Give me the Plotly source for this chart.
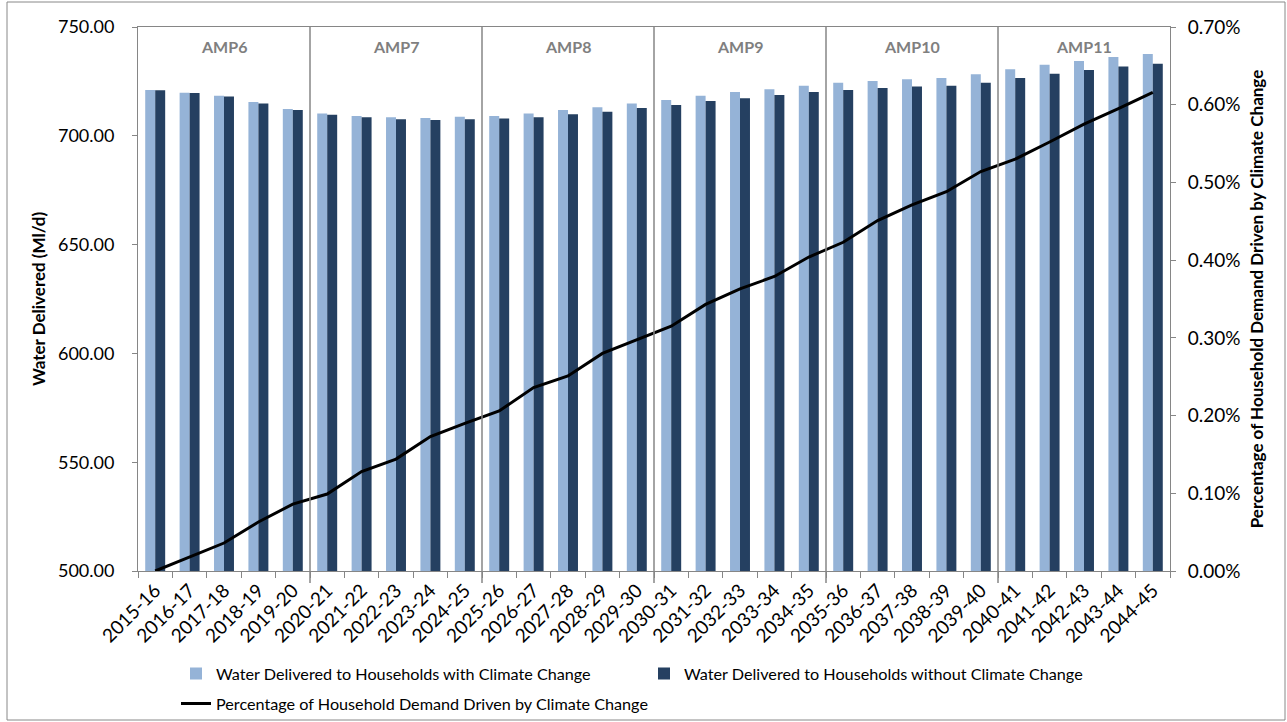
import plotly.graph_objects as go

years = ["2015-16", "2016-17", "2017-18", "2018-19", "2019-20", "2020-21", "2021-22", "2022-23",
         "2023-24", "2024-25", "2025-26", "2026-27", "2027-28", "2028-29", "2029-30", "2030-31",
         "2031-32", "2032-33", "2033-34", "2034-35", "2035-36", "2036-37", "2037-38", "2038-39",
         "2039-40", "2040-41", "2041-42", "2042-43", "2043-44", "2044-45"]

with_cc = [721.0, 719.8, 718.4, 715.5, 712.3, 710.3, 709.1, 708.5, 708.2, 708.8,
           709.1, 710.3, 711.9, 713.1, 714.9, 716.5, 718.4, 720.1, 721.4, 723.0,
           724.4, 725.2, 726.0, 726.6, 728.3, 730.6, 732.7, 734.4, 736.2, 737.6]
without_cc = [720.9, 719.7, 718.1, 714.9, 711.9, 709.7, 708.5, 707.6, 707.3, 707.6,
              707.9, 708.5, 709.9, 711.1, 712.8, 714.2, 716.0, 717.2, 718.8, 720.1,
              721.0, 722.0, 722.7, 723.0, 724.4, 726.6, 728.5, 730.2, 731.8, 733.1]
pct_cc = [0.0000, 0.00018, 0.00036, 0.00063, 0.00086, 0.00099, 0.00128, 0.00144, 0.00173, 0.00190,
          0.00206, 0.00236, 0.00251, 0.00280, 0.00297, 0.00315, 0.00343, 0.00363, 0.00379, 0.00404,
          0.00423, 0.00451, 0.00471, 0.00488, 0.00514, 0.00530, 0.00552, 0.00575, 0.00595, 0.00616]

amp_labels = ["AMP6", "AMP7", "AMP8", "AMP9", "AMP10", "AMP11"]
years_per_amp = 5

W, H = 1287, 722
ML, MR, MT, MB = 138, 117, 27, 151
PW, PH = W - ML - MR, H - MT - MB

FONT = "Lato, 'Open Sans', sans-serif"
GRID = "#868686"

fig = go.Figure()
fig.add_trace(go.Bar(x=years, y=with_cc, name="Water Delivered to Households with Climate Change",
                     marker=dict(color="#95B3D7", line=dict(width=0)), legend="legend"))
fig.add_trace(go.Bar(x=years, y=without_cc, name="Water Delivered to Households without Climate Change",
                     marker=dict(color="#254061", line=dict(width=0)), legend="legend"))
fig.add_trace(go.Scatter(x=years, y=pct_cc, name="Percentage of Household Demand Driven by Climate Change",
                         mode="lines", line=dict(color="black", width=3), yaxis="y2", legend="legend2"))

shapes = []
for k in range(1, len(amp_labels)):
    b = k * years_per_amp - 0.5
    shapes.append(dict(type="line", xref="x", yref="paper", x0=b, x1=b, y0=-12 / PH, y1=1,
                       line=dict(color=GRID, width=1.5)))
# outer chart border
shapes.append(dict(type="rect", xref="paper", yref="paper",
                   x0=(7 - ML) / PW, x1=(W - 2 - ML) / PW,
                   y0=-(H - 2 - MT - PH) / PH, y1=1 + (MT - 2) / PH,
                   line=dict(color="#888888", width=1), fillcolor="rgba(0,0,0,0)"))

annotations = []
for k, lab in enumerate(amp_labels):
    annotations.append(dict(x=k * years_per_amp + (years_per_amp - 1) / 2, xref="x",
                            y=1 - 20 / PH, yref="paper", yanchor="middle", xanchor="center",
                            text="<b>%s</b>" % lab, showarrow=False,
                            font=dict(family=FONT, size=16, color="#7F7F7F")))

fig.update_layout(
    width=W, height=H,
    margin=dict(l=ML, r=MR, t=MT, b=MB, autoexpand=False),
    paper_bgcolor="white", plot_bgcolor="white",
    barmode="group", bargap=0.42, bargroupgap=0,
    font=dict(family=FONT, color="black"),
    shapes=shapes, annotations=annotations,
    xaxis=dict(type="category", showline=True, linecolor=GRID, linewidth=1, mirror=True,
               ticks="outside", tickson="boundaries", ticklen=6, tickcolor=GRID,
               tickangle=-45, tickfont=dict(size=19, family=FONT), showgrid=False, automargin=False),
    yaxis=dict(range=[500, 750], dtick=50, tickformat=".2f", showline=True, linecolor=GRID,
               ticks="outside", ticklen=5, tickcolor=GRID, showgrid=False, zeroline=False,
               tickfont=dict(size=18, family=FONT), ticklabelstandoff=14, automargin=False,
               title=dict(text="<b>Water Delivered (Ml/d)</b>", font=dict(size=17, family=FONT), standoff=7)),
    yaxis2=dict(range=[0, 0.007], dtick=0.001, tickformat=".2%", overlaying="y", side="right",
                showline=True, linecolor=GRID, ticks="outside", ticklen=5, tickcolor=GRID,
                showgrid=False, zeroline=False, tickfont=dict(size=19, family=FONT), ticklabelstandoff=8,
                automargin=False,
                title=dict(text="<b>Percentage of Household Demand Driven by Climate Change</b>",
                           font=dict(size=17, family=FONT), standoff=11)),
    legend=dict(orientation="h", x=(176 - ML) / PW, xanchor="left", yref="container",
                y=1 - 674 / H, yanchor="middle", entrywidth=423, font=dict(size=16.2, family=FONT),
                bgcolor="rgba(0,0,0,0)", traceorder="normal"),
    legend2=dict(orientation="h", x=(176 - ML) / PW, xanchor="left", yref="container",
                 y=1 - 704 / H, yanchor="middle", font=dict(size=16.2, family=FONT),
                 bgcolor="rgba(0,0,0,0)"),
)

fig.write_html("out.html")
